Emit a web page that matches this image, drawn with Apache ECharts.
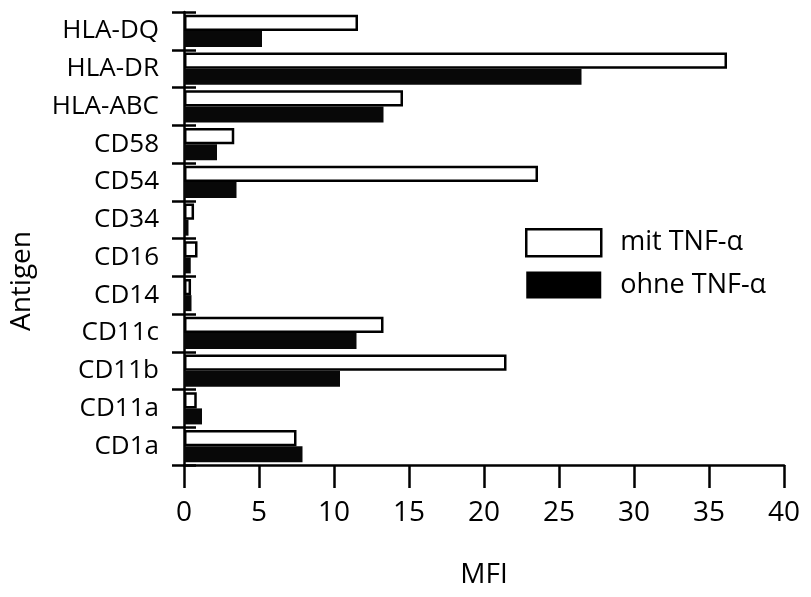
<!DOCTYPE html>
<html>
<head>
<meta charset="utf-8">
<script src="https://cdn.jsdelivr.net/npm/echarts@6/dist/echarts.min.js"></script>
<style>
    html, body { margin: 0; padding: 0; background: #fff; }
    #chart { width: 811px; height: 597px; }
</style>
</head>
<body>
<div id="chart"></div>
<script>
// categories from bottom to top
var antigens = ['CD1a', 'CD11a', 'CD11b', 'CD11c', 'CD14', 'CD16', 'CD34', 'CD54', 'CD58', 'HLA-ABC', 'HLA-DR', 'HLA-DQ'];
// MFI values
var mitTNF = [7.5, 0.85, 21.5, 13.3, 0.47, 0.9, 0.67, 23.6, 3.35, 14.6, 36.2, 11.6];
var ohneTNF = [7.9, 1.2, 10.4, 11.5, 0.5, 0.45, 0.3, 3.5, 2.2, 13.3, 26.5, 5.2];
var xTicks = [0, 40, 5];

window.onload = function () {
    initChart();
}

function initChart() {
    var font = '"Open Sans", "Noto Sans", sans-serif';
    var chart = echarts.init(document.getElementById('chart'));
    chart.setOption({
        animation: false,
        backgroundColor: '#fff',
        textStyle: { fontFamily: font, color: '#000' },
        grid: { left: 184, right: 27, top: 12, bottom: 132, containLabel: false },
        legend: {
            orient: 'vertical',
            left: 525,
            top: 228,
            padding: 0,
            itemWidth: 75,
            itemHeight: 27,
            itemGap: 14,
            icon: 'rect',
            textStyle: { fontSize: 27, color: '#000', fontFamily: font, padding: [0, 0, 0, 14] },
            data: [
                { name: 'mit TNF-α', itemStyle: { color: '#fff', borderColor: '#000', borderWidth: 2.5 } },
                { name: 'ohne TNF-α', itemStyle: { color: '#000', borderWidth: 0 } }
            ]
        },
        xAxis: {
            type: 'value',
            min: xTicks[0],
            max: xTicks[1],
            interval: xTicks[2],
            name: 'MFI',
            nameLocation: 'middle',
            nameGap: 96,
            nameTextStyle: { fontSize: 28, color: '#000', fontFamily: font },
            axisLine: { show: true, lineStyle: { color: '#000', width: 2.5 } },
            axisTick: { show: true, length: 23, lineStyle: { color: '#000', width: 2.5 } },
            axisLabel: { fontSize: 28, color: '#000', margin: 34, fontFamily: font },
            splitLine: { show: false }
        },
        yAxis: [{
            type: 'category',
            data: antigens,
            axisLine: { show: true, lineStyle: { color: '#000', width: 2.5 } },
            axisTick: { show: true, length: 12, lineStyle: { color: '#000', width: 2.5 } },
            axisLabel: { fontSize: 26, color: '#000', margin: 25, fontFamily: font },
            splitLine: { show: false }
        }, {
            // inner half of the crossing ticks
            type: 'category',
            data: antigens,
            position: 'left',
            axisLine: { show: false },
            axisTick: { show: true, inside: true, length: 12, lineStyle: { color: '#000', width: 2.5 } },
            axisLabel: { show: false },
            splitLine: { show: false }
        }],
        graphic: [{
            type: 'text',
            rotation: Math.PI / 2,
            x: 22,
            y: 281,
            style: { text: 'Antigen', font: '28px ' + font, fill: '#000', align: 'center', verticalAlign: 'middle' }
        }],
        series: [{
            name: 'mit TNF-α',
            type: 'bar',
            data: mitTNF,
            barGap: '0%',
            barCategoryGap: '15%',
            itemStyle: { color: '#fff', borderColor: '#000', borderWidth: 2.5 }
        }, {
            name: 'ohne TNF-α',
            type: 'bar',
            data: ohneTNF,
            barGap: '0%',
            barCategoryGap: '15%',
            itemStyle: { color: '#080808' }
        }]
    });
}
</script>
</body>
</html>
